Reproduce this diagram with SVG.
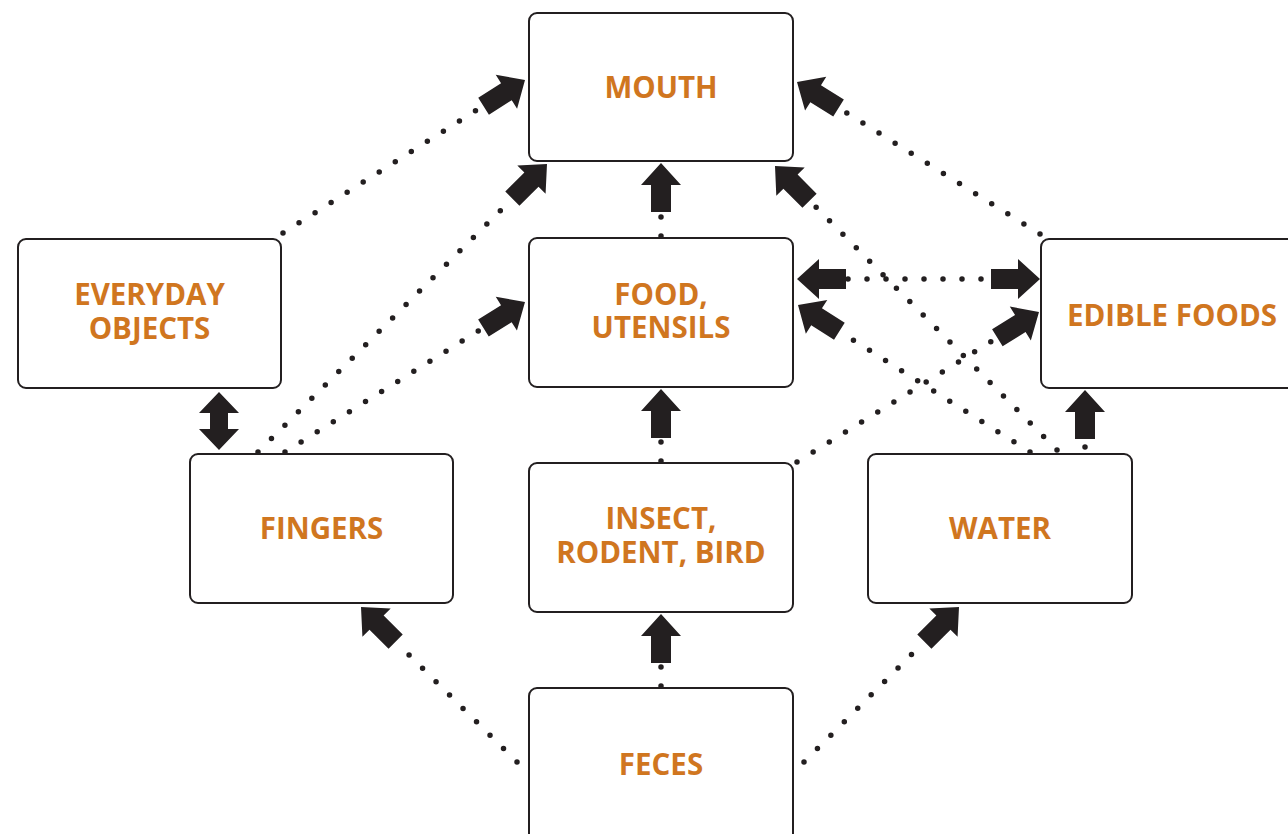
<svg xmlns="http://www.w3.org/2000/svg" width="1288" height="834" viewBox="0 0 1288 834">
<defs>
<style>
.box{fill:#fff;stroke:#231F20;stroke-width:2}
.lbl{font-family:"Open Sans","Noto Sans","Liberation Sans",sans-serif;font-weight:bold;font-size:29.5px;fill:#D0761F;text-anchor:middle}
.dots{fill:none;stroke:#231F20;stroke-width:5.5;stroke-linecap:round;stroke-dasharray:0 19}
.arr{fill:#231F20}
</style>
<path id="ar" d="M0,0 L-22,-20 L-22,-10 L-49,-10 L-49,10 L-22,10 L-22,20 Z"/>
<path id="dar" d="M0,0 L21,-20 L21,-9 L37,-9 L37,-20 L58,0 L37,20 L37,9 L21,9 L21,20 Z"/>
</defs>
<rect width="1288" height="834" fill="#fff"/>
<g id="connectors">
<line class="dots" x1="283" y1="233" x2="483" y2="106"/>
<line class="dots" x1="258" y1="452" x2="512" y2="199"/>
<line class="dots" x1="285" y1="452" x2="483" y2="328"/>
<line class="dots" x1="661" y1="236" x2="661" y2="212"/>
<line class="dots" x1="661" y1="461" x2="661" y2="438"/>
<line class="dots" x1="661" y1="686" x2="661" y2="663"/>
<line class="dots" x1="517" y1="762" x2="396" y2="642"/>
<line class="dots" x1="804" y1="762" x2="924" y2="642"/>
<line class="dots" x1="1085" y1="447" x2="1085" y2="439"/>
<line class="dots" x1="848" y1="279" x2="992" y2="279"/>
<line class="dots" x1="797" y1="462" x2="997" y2="338"/>
<line class="dots" x1="1030" y1="452" x2="839" y2="331"/>
<line class="dots" x1="1057" y1="450" x2="810" y2="201"/>
<line class="dots" x1="1040" y1="234" x2="839" y2="108"/>
<use href="#ar" class="arr" transform="translate(525,80) rotate(-32.3)"/>
<use href="#ar" class="arr" transform="translate(547,164) rotate(-45)"/>
<use href="#ar" class="arr" transform="translate(525,302) rotate(-32)"/>
<use href="#ar" class="arr" transform="translate(661,163) rotate(-90)"/>
<use href="#ar" class="arr" transform="translate(661,389) rotate(-90)"/>
<use href="#ar" class="arr" transform="translate(661,614) rotate(-90)"/>
<use href="#ar" class="arr" transform="translate(361,607) rotate(-135)"/>
<use href="#ar" class="arr" transform="translate(959,607) rotate(-45)"/>
<use href="#ar" class="arr" transform="translate(1085,390) rotate(-90)"/>
<use href="#ar" class="arr" transform="translate(797,279) rotate(180)"/>
<use href="#ar" class="arr" transform="translate(1040,279)"/>
<use href="#ar" class="arr" transform="translate(1039,312) rotate(-31.8)"/>
<use href="#ar" class="arr" transform="translate(798,305) rotate(-147.6)"/>
<use href="#ar" class="arr" transform="translate(775,166) rotate(-134.8)"/>
<use href="#ar" class="arr" transform="translate(797,82) rotate(-148)"/>
<use href="#dar" class="arr" transform="translate(219,392) rotate(90)"/>
</g>
<g id="mouth"><rect class="box" x="529" y="13" width="264" height="148" rx="8"/><text class="lbl" x="661" y="98">MOUTH</text></g>
<g id="food"><rect class="box" x="529" y="238" width="264" height="149" rx="8"/><text class="lbl" x="661" y="305">FOOD,</text><text class="lbl" x="661" y="338">UTENSILS</text></g>
<g id="everyday"><rect class="box" x="18" y="239" width="263" height="149" rx="8"/><text class="lbl" x="149.5" y="305">EVERYDAY</text><text class="lbl" x="149.5" y="339">OBJECTS</text></g>
<g id="edible"><rect class="box" x="1041" y="239" width="260" height="149" rx="8"/><text class="lbl" x="1172" y="326">EDIBLE FOODS</text></g>
<g id="fingers"><rect class="box" x="190" y="454" width="263" height="149" rx="8"/><text class="lbl" x="321.5" y="539">FINGERS</text></g>
<g id="insect"><rect class="box" x="529" y="463" width="264" height="149" rx="8"/><text class="lbl" x="661" y="529">INSECT,</text><text class="lbl" x="661" y="563">RODENT, BIRD</text></g>
<g id="water"><rect class="box" x="868" y="454" width="264" height="149" rx="8"/><text class="lbl" x="1000" y="539">WATER</text></g>
<g id="feces"><rect class="box" x="529" y="688" width="264" height="160" rx="8"/><text class="lbl" x="661" y="775">FECES</text></g>
</svg>
